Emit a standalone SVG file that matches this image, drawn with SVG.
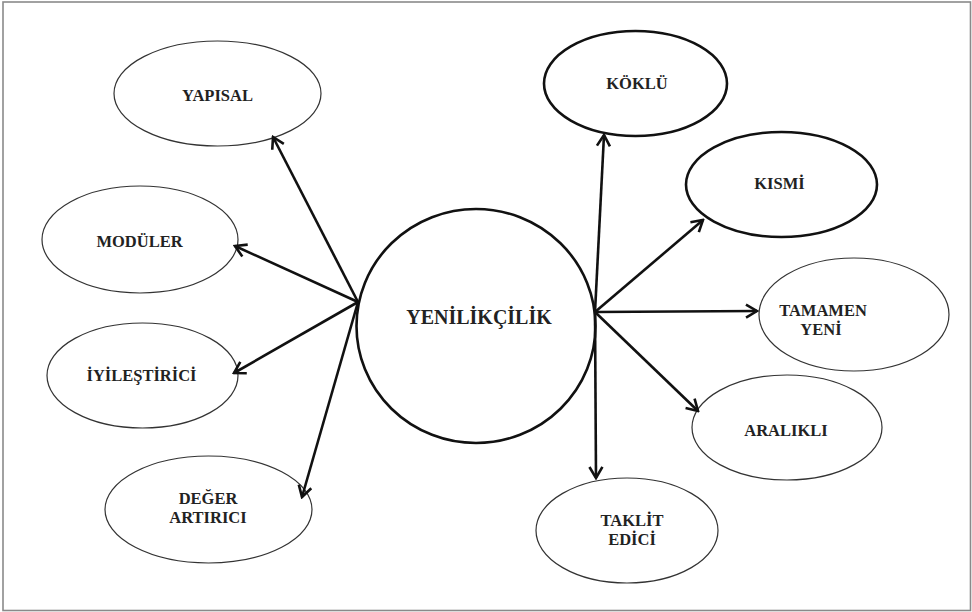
<svg xmlns="http://www.w3.org/2000/svg" width="972" height="612" viewBox="0 0 972 612">
  <style>
    .thin { fill: #ffffff; stroke: #333333; stroke-width: 1.2; }
    .thick { fill: #ffffff; stroke: #111111; stroke-width: 2.6; }
    .label { font-family: 'Liberation Serif', 'DejaVu Serif', serif; font-weight: bold; font-size: 16.5px; fill: #222222; text-anchor: middle; }
    .hub { font-size: 20px; }
    .edge { stroke: #111111; stroke-width: 2.6; fill: none; marker-end: url(#arrow); }
  </style>
  <defs>
    <marker id="arrow" markerUnits="userSpaceOnUse" viewBox="-14 -8 16 16" refX="0" refY="0" markerWidth="16" markerHeight="16" orient="auto">
      <path d="M-11,-6.5 L0,0 L-11,6.5" fill="none" stroke="#111111" stroke-width="2.6" stroke-linejoin="miter"/>
    </marker>
  </defs>

  <rect x="3" y="2" width="967.5" height="608.5" fill="#ffffff" stroke="#8a8a8a" stroke-width="1.6"/>

  <g id="node-yenilikcilik">
    <ellipse class="thick" cx="476" cy="326" rx="119.5" ry="117"/>
    <text class="label hub" x="479" y="324" font-family="Liberation Serif, DejaVu Serif, serif">YENİLİKÇİLİK</text>
  </g>

  <g id="node-yapisal">
    <ellipse class="thin" cx="217.5" cy="93.5" rx="103.5" ry="52.5"/>
    <text class="label" x="217.5" y="101">YAPISAL</text>
  </g>

  <g id="node-moduler">
    <ellipse class="thin" cx="140" cy="239.5" rx="98" ry="53.5"/>
    <text class="label" x="139.5" y="247">MODÜLER</text>
  </g>

  <g id="node-iyilestirici">
    <ellipse class="thin" cx="142.5" cy="375.5" rx="95.5" ry="52.5"/>
    <text class="label" x="141.5" y="381">İYİLEŞTİRİCİ</text>
  </g>

  <g id="node-deger-artirici">
    <ellipse class="thin" cx="208.5" cy="509.5" rx="103.5" ry="53.5"/>
    <text class="label" x="208" y="504">DEĞER</text>
    <text class="label" x="208" y="523">ARTIRICI</text>
  </g>

  <g id="node-koklu">
    <ellipse class="thick" cx="635.5" cy="83.5" rx="91.5" ry="52.5"/>
    <text class="label" x="637" y="89">KÖKLÜ</text>
  </g>

  <g id="node-kismi">
    <ellipse class="thick" cx="781.5" cy="184.5" rx="95.5" ry="52.5"/>
    <text class="label" x="779.5" y="189">KISMİ</text>
  </g>

  <g id="node-tamamen-yeni">
    <ellipse class="thin" cx="854" cy="314.5" rx="95" ry="56.5"/>
    <text class="label" x="823" y="316">TAMAMEN</text>
    <text class="label" x="821" y="335">YENİ</text>
  </g>

  <g id="node-aralikli">
    <ellipse class="thin" cx="787" cy="427.5" rx="95" ry="52.5"/>
    <text class="label" x="786" y="436">ARALIKLI</text>
  </g>

  <g id="node-taklit-edici">
    <ellipse class="thin" cx="627" cy="530.5" rx="91" ry="52.5"/>
    <text class="label" x="632" y="526">TAKLİT</text>
    <text class="label" x="632" y="545">EDİCİ</text>
  </g>

  <g id="connectors">
    <line class="edge" x1="358" y1="302" x2="273" y2="137"/>
    <line class="edge" x1="358" y1="302" x2="235" y2="246"/>
    <line class="edge" x1="358" y1="302" x2="234" y2="373"/>
    <line class="edge" x1="358" y1="302" x2="302" y2="497"/>
    <line class="edge" x1="595" y1="312" x2="604" y2="135"/>
    <line class="edge" x1="595" y1="312" x2="703" y2="220"/>
    <line class="edge" x1="595" y1="312" x2="757" y2="311"/>
    <line class="edge" x1="595" y1="312" x2="698" y2="411"/>
    <line class="edge" x1="595" y1="312" x2="596" y2="478"/>
  </g>
</svg>
